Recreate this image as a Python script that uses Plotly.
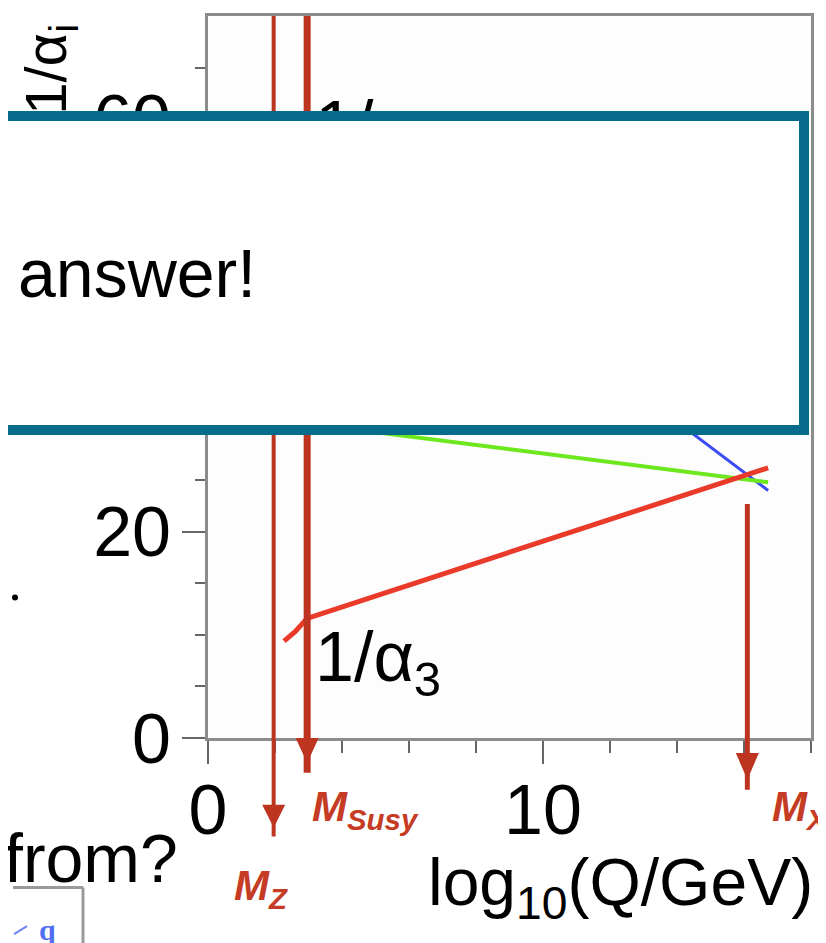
import plotly.graph_objects as go

# 1/alpha_i against log10(Q/GeV)
alpha1_x = [1.96, 2.96, 16.72]
alpha1_y = [59.2, 57.7, 24.0]
alpha2_x = [1.96, 2.96, 16.72]
alpha2_y = [29.8, 30.5, 24.8]
alpha3_x = [2.27, 2.6, 2.96, 16.72]
alpha3_y = [9.4, 10.3, 11.6, 26.2]

# mass scales marked with arrows
scale_names = ["M<sub>Z</sub>", "M<sub>Susy</sub>", "M<sub>X</sub>"]
scale_log10 = [1.96, 2.96, 16.1]

x_ticks = [0, 10]
x_minor = [2, 4, 6, 8, 12, 14, 16, 18]
y_ticks = [0, 20, 40, 60]
y_minor = [5, 10, 15, 25, 30, 35, 45, 50, 55, 65]

FONT = "Liberation Sans, Arial, Helvetica, sans-serif"
RED = "#bd3420"

# page geometry (pixels); the html body adds an 8px margin
OFF = 8
W, H = 826 - OFF, 943 - OFF
L, R, T, B = 208 - OFF, 15, 13 - OFF, 205
PW, PH = W - L - R, H - T - B


# positions below are given as pixels of the whole page
def px(x):
    return (x - 208) / PW


def py(y):
    return (738 - y) / PH


fig = go.Figure()
fig.add_trace(go.Scatter(x=alpha1_x, y=alpha1_y, mode="lines", line=dict(color="#3b4cf2", width=3)))
fig.add_trace(go.Scatter(x=alpha2_x, y=alpha2_y, mode="lines", line=dict(color="#6ee81e", width=4)))
fig.add_trace(go.Scatter(x=alpha3_x, y=alpha3_y, mode="lines", line=dict(color="#ea3a2a", width=5)))

# arrows for the scales (pixel positions of top, head base, tip, end)
arrow_top = [13, 13, 503]
arrow_base = [805, 738, 753]
arrow_tip = [828, 763, 780]
arrow_end = [837, 773, 790]
arrow_w = [4, 7, 5]
label_left = [232, 310, 770]
label_mid = [889, 810, 810]
half = 11.5 / (PW / 18)

for i, v in enumerate(scale_log10):
    fig.add_shape(type="line", xref="x", yref="paper", x0=v, x1=v,
                  y0=py(arrow_end[i]), y1=py(arrow_top[i]),
                  line=dict(color=RED, width=arrow_w[i]))
    fig.add_shape(type="path", xref="x", yref="paper",
                  path=f"M {v - half},{py(arrow_base[i])} L {v + half},{py(arrow_base[i])} "
                       f"L {v},{py(arrow_tip[i])} Z",
                  fillcolor=RED, line=dict(width=0))
    fig.add_annotation(xref="paper", yref="paper", x=px(label_left[i]), y=py(label_mid[i]),
                       xanchor="left", yanchor="middle", showarrow=False,
                       text=f"<b><i>{scale_names[i]}</i></b>",
                       font=dict(size=42, color="#c53b24", family=FONT))

# bits of the slide around the plot
fig.add_shape(type="line", xref="paper", yref="paper", x0=px(13), x1=px(83), y0=py(888), y1=py(888),
              line=dict(color="#9a9a9a", width=3))
fig.add_shape(type="line", xref="paper", yref="paper", x0=px(83), x1=px(83), y0=py(888), y1=py(950),
              line=dict(color="#9a9a9a", width=3))
fig.add_shape(type="line", xref="paper", yref="paper", x0=px(14), x1=px(27), y0=py(935), y1=py(927),
              line=dict(color="#6c86f0", width=2))
fig.add_shape(type="circle", xref="paper", yref="paper", x0=px(12), x1=px(18), y0=py(600), y1=py(594),
              fillcolor="black", line=dict(width=0))

fig.add_annotation(xref="paper", yref="paper", x=px(50), y=py(67), xanchor="center", yanchor="middle",
                   textangle=-90, showarrow=False, text="1/α<sub>i</sub>",
                   font=dict(size=58, color="black", family=FONT))
fig.add_annotation(xref="paper", yref="paper", x=px(313), y=py(128), xanchor="left", yanchor="middle",
                   showarrow=False, text="1/α<sub>1</sub>", font=dict(size=70, color="black", family=FONT))
fig.add_annotation(xref="paper", yref="paper", x=px(313), y=py(662), xanchor="left", yanchor="middle",
                   showarrow=False, text="1/α<sub>3</sub>", font=dict(size=70, color="black", family=FONT))

# the box laid over the slide
fig.add_annotation(xref="paper", yref="paper", x=px(-15), y=py(108), xanchor="left", yanchor="top",
                   showarrow=False, text="answer!", align="left", valign="middle",
                   width=758, height=258, bgcolor="white", bordercolor="#076b8c",
                   borderwidth=10, borderpad=23, font=dict(size=68, color="black", family=FONT))

fig.add_annotation(xref="paper", yref="paper", x=px(620), y=py(888), xanchor="center", yanchor="middle",
                   showarrow=False, text="log<sub>10</sub>(Q/GeV)",
                   font=dict(size=66, color="black", family=FONT))
fig.add_annotation(xref="paper", yref="paper", x=px(2), y=py(858), xanchor="left", yanchor="middle",
                   showarrow=False, text="from?", font=dict(size=68, color="black", family=FONT))
fig.add_annotation(xref="paper", yref="paper", x=px(37), y=py(930), xanchor="left", yanchor="middle",
                   showarrow=False, text="<b>q</b>",
                   font=dict(size=30, color="#4f6ef0", family="Liberation Serif, serif"))

axis_style = dict(showline=True, linecolor="#8c8c8c", linewidth=3, mirror=True,
                  ticks="outside", ticklen=23, tickwidth=2, tickcolor="#666",
                  showgrid=False, zeroline=False,
                  tickfont=dict(size=70, family=FONT, color="black"))
fig.update_xaxes(range=[0, 18], tickvals=x_ticks, ticklabelstandoff=-14,
                 minor=dict(tickvals=x_minor, ticks="outside", ticklen=12, tickwidth=2, tickcolor="#666"),
                 **axis_style)
fig.update_yaxes(range=[0, 70], tickvals=y_ticks, ticklabelstandoff=-3,
                 minor=dict(tickvals=y_minor, ticks="outside", ticklen=10, tickwidth=2, tickcolor="#666"),
                 **axis_style)

fig.update_layout(width=W, height=H, margin=dict(l=L, r=R, t=T, b=B),
                  plot_bgcolor="#fdfdfd", paper_bgcolor="white", showlegend=False)

fig.write_html("out.html")
